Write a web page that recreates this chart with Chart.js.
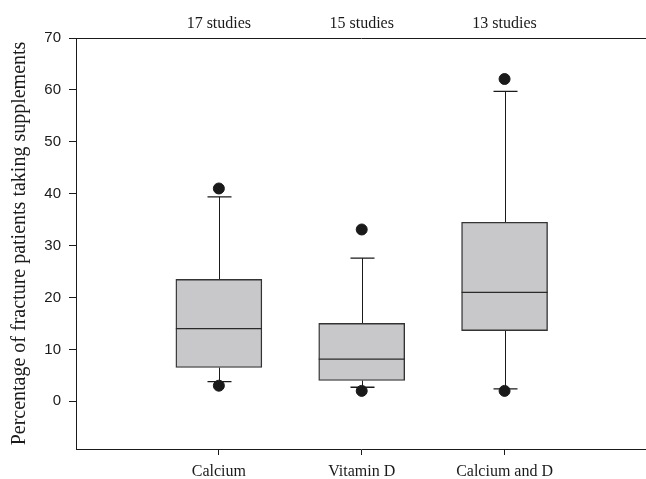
<!DOCTYPE html>
<html>
<head>
<meta charset="utf-8">
<script src="https://cdn.jsdelivr.net/npm/chart.js@4/dist/chart.umd.min.js"></script>
<style>
  html, body { margin: 0; padding: 0; background: #fff; overflow: hidden; }
  #wrap { width: 646px; height: 479px; }
</style>
</head>
<body>
<div id="wrap"><canvas id="box-chart"></canvas></div>
<script>
// box plot values (percent)
const categories = ['Calcium', 'Vitamin D', 'Calcium and D'];
const studyLabels = ['17 studies', '15 studies', '13 studies'];
const q1 = [6.5, 4.0, 13.6];
const median = [14.0, 8.1, 21.0];
const q3 = [23.5, 15.0, 34.5];
const whiskerLow = [3.8, 2.7, 2.4];
const whiskerHigh = [39.4, 27.6, 59.7];
const outlierLow = [3.0, 2.0, 2.0];
const outlierHigh = [41.0, 33.1, 62.1];
const yTicks = [0, 10, 20, 30, 40, 50, 60, 70];

const ink = '#1a1a1a';
Chart.defaults.color = ink;

const positions = categories.map((c, i) => i + 1);

const boxData = positions.map((x, i) => ({ x: x, y: [q1[i], q3[i]] }));
const dotData = [];
positions.forEach((x, i) => {
    dotData.push({ x: x, y: outlierLow[i] });
    dotData.push({ x: x, y: outlierHigh[i] });
});

// whiskers under the boxes/dots, median lines on top of the boxes
const boxPlotLines = {
    id: 'boxPlotLines',
    beforeDatasetsDraw(chart) {
        const ctx = chart.ctx;
        const xs = chart.scales.x;
        const ys = chart.scales.y;
        const capHalf = 12;
        ctx.save();
        ctx.strokeStyle = ink;
        positions.forEach((x, i) => {
            const px = Math.round(xs.getPixelForValue(x)) + 0.5;
            const yLo = ys.getPixelForValue(whiskerLow[i]);
            const yHi = ys.getPixelForValue(whiskerHigh[i]);
            ctx.lineWidth = 1;
            ctx.beginPath();
            ctx.moveTo(px, ys.getPixelForValue(q1[i]));
            ctx.lineTo(px, yLo);
            ctx.moveTo(px, ys.getPixelForValue(q3[i]));
            ctx.lineTo(px, yHi);
            ctx.stroke();
            ctx.lineWidth = 1.3;
            ctx.beginPath();
            ctx.moveTo(px - capHalf, yLo);
            ctx.lineTo(px + capHalf, yLo);
            ctx.moveTo(px - capHalf, yHi);
            ctx.lineTo(px + capHalf, yHi);
            ctx.stroke();
        });
        ctx.restore();
    },
    afterDatasetsDraw(chart) {
        const ctx = chart.ctx;
        const ys = chart.scales.y;
        const bars = chart.getDatasetMeta(0).data;
        ctx.save();
        ctx.strokeStyle = '#2a2a2a';
        ctx.lineWidth = 1.3;
        bars.forEach((bar, i) => {
            const y = ys.getPixelForValue(median[i]);
            ctx.beginPath();
            ctx.moveTo(bar.x - bar.width / 2, y);
            ctx.lineTo(bar.x + bar.width / 2, y);
            ctx.stroke();
        });
        ctx.restore();
    }
};

function fixHorizontal(height) {
    return (scale) => {
        scale.height = height;
        scale.paddingLeft = 0;
        scale.paddingRight = 0;
    };
}

const config = {
    type: 'bar',
    data: {
        datasets: [{
            type: 'bar',
            label: 'IQR',
            data: boxData,
            backgroundColor: '#c8c8ca',
            borderColor: '#333333',
            borderWidth: 1.4,
            borderSkipped: false,
            barThickness: 86,
            xAxisID: 'x',
            yAxisID: 'y',
            order: 2
        },
        {
            type: 'scatter',
            label: 'outliers',
            data: dotData,
            backgroundColor: ink,
            borderColor: ink,
            pointRadius: 5.5,
            pointHoverRadius: 5.5,
            xAxisID: 'x',
            yAxisID: 'y',
            order: 1
        }]
    },
    options: {
        responsive: true,
        maintainAspectRatio: false,
        animation: false,
        layout: { padding: 0, autoPadding: false },
        plugins: {
            legend: { display: false },
            tooltip: { enabled: false }
        },
        scales: {
            x: {
                type: 'linear',
                position: 'bottom',
                min: 0,
                max: 3.99,
                offset: false,
                afterBuildTicks: (scale) => {
                    scale.ticks = positions.map(v => ({ value: v }));
                },
                afterFit: fixHorizontal(30),
                ticks: {
                    autoSkip: false,
                    maxRotation: 0,
                    padding: 7,
                    font: { family: '"Liberation Serif", "Times New Roman", serif', size: 16 },
                    callback: (v) => categories[v - 1]
                },
                grid: { drawOnChartArea: false, drawTicks: true, tickLength: 6, offset: false, color: ink },
                border: { display: true, color: ink, width: 1 }
            },
            x2: {
                type: 'linear',
                position: 'top',
                min: 0,
                max: 3.99,
                offset: false,
                afterBuildTicks: (scale) => {
                    scale.ticks = positions.map(v => ({ value: v }));
                },
                afterFit: fixHorizontal(38),
                ticks: {
                    autoSkip: false,
                    maxRotation: 0,
                    padding: 5,
                    font: { family: '"Liberation Serif", "Times New Roman", serif', size: 16 },
                    callback: (v) => studyLabels[v - 1]
                },
                grid: { drawOnChartArea: false, drawTicks: false, offset: false },
                border: { display: true, color: ink, width: 1 }
            },
            y: {
                type: 'linear',
                min: -9.2,
                max: 70,
                afterBuildTicks: (scale) => {
                    scale.ticks = yTicks.map(v => ({ value: v }));
                },
                afterFit: (scale) => { scale.width = 76; },
                ticks: {
                    padding: 8,
                    font: { family: '"Liberation Sans", Arial, sans-serif', size: 15 }
                },
                grid: { drawOnChartArea: false, drawTicks: true, tickLength: 7, color: ink },
                border: { display: true, color: ink, width: 1 },
                title: {
                    display: true,
                    text: 'Percentage of fracture patients taking supplements',
                    padding: { top: 8, bottom: 0 },
                    font: { family: '"Liberation Serif", "Times New Roman", serif', size: 20 }
                }
            }
        }
    },
    plugins: [boxPlotLines]
};

new Chart(document.getElementById('box-chart'), config);
</script>
</body>
</html>
